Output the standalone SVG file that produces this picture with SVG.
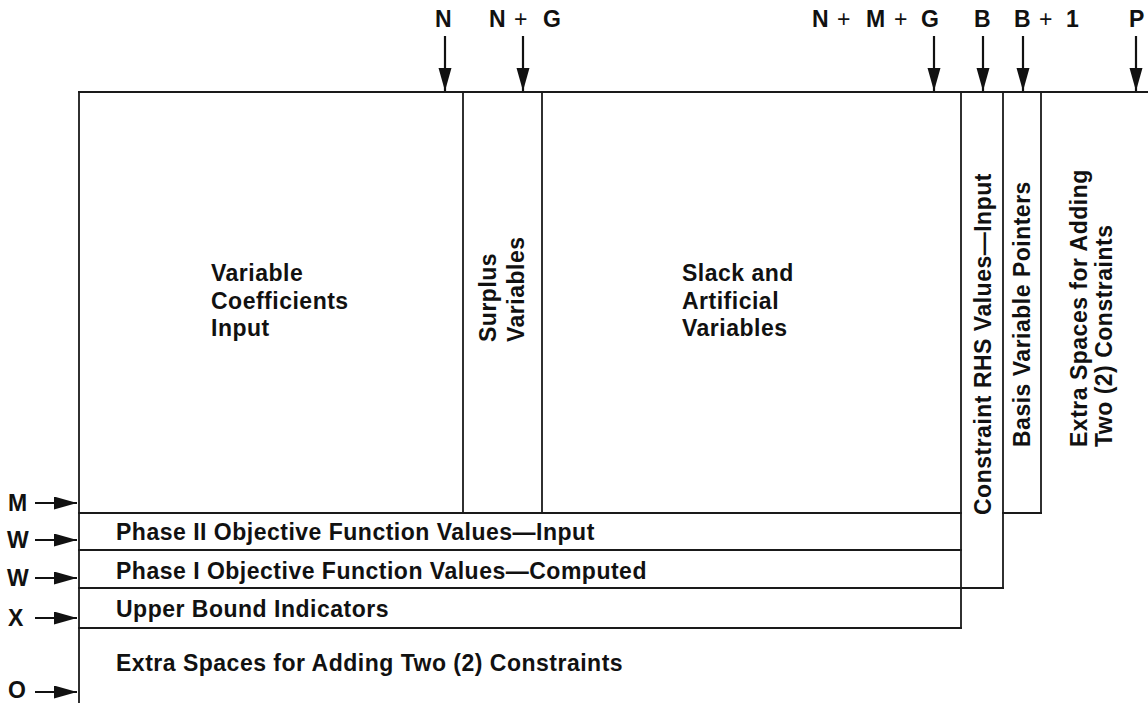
<svg xmlns="http://www.w3.org/2000/svg" width="1148" height="703" viewBox="0 0 1148 703">
<style>
  .ln{stroke:#1a1a1a;stroke-width:1.8;fill:none;stroke-linecap:square}
  .ar{stroke:#111;stroke-width:2.2;fill:none}
  .t{font-family:"Liberation Sans",Arial,Helvetica,sans-serif;font-weight:bold;font-size:23px;fill:#111;letter-spacing:0.5px}
  .pl{font-family:"Liberation Sans",Arial,Helvetica,sans-serif;font-weight:normal;font-size:23px;fill:#111}
</style>
<defs>
  <marker id="ah" markerUnits="userSpaceOnUse" markerWidth="24" markerHeight="14" refX="23" refY="6.5" orient="auto">
    <path d="M0,0 L23,6.5 L0,13 z" fill="#111"/>
  </marker>
</defs>
<rect width="1148" height="703" fill="#fff"/>

<g id="frame">
  <line class="ln" x1="79" y1="92" x2="1148" y2="92"/>
  <line class="ln" x1="79" y1="92" x2="79" y2="703"/>
</g>

<g id="variable-coefficients">
  <text class="t" x="211" y="281">Variable</text>
  <text class="t" x="211" y="309">Coefficients</text>
  <text class="t" x="211" y="336">Input</text>
</g>

<g id="surplus-variables">
  <line class="ln" x1="463" y1="92" x2="463" y2="513"/>
  <line class="ln" x1="542" y1="92" x2="542" y2="513"/>
  <text class="t" transform="translate(496,342) rotate(-90)">Surplus</text>
  <text class="t" transform="translate(524,342) rotate(-90)">Variables</text>
</g>

<g id="slack-artificial">
  <text class="t" x="682" y="281">Slack and</text>
  <text class="t" x="682" y="309">Artificial</text>
  <text class="t" x="682" y="336">Variables</text>
</g>

<g id="constraint-rhs">
  <line class="ln" x1="961" y1="92" x2="961" y2="628"/>
  <line class="ln" x1="1003" y1="92" x2="1003" y2="588"/>
  <text class="t" transform="translate(991,515) rotate(-90)">Constraint RHS Values—Input</text>
</g>

<g id="basis-pointers">
  <line class="ln" x1="1041" y1="92" x2="1041" y2="513"/>
  <line class="ln" x1="1003" y1="513" x2="1041" y2="513"/>
  <text class="t" transform="translate(1030,447) rotate(-90)">Basis Variable Pointers</text>
</g>

<g id="extra-columns">
  <text class="t" transform="translate(1087,447) rotate(-90)">Extra Spaces for Adding</text>
  <text class="t" transform="translate(1112,447) rotate(-90)">Two (2) Constraints</text>
</g>

<g id="phase2-row">
  <line class="ln" x1="79" y1="513" x2="961" y2="513"/>
  <text class="t" x="116" y="540">Phase II Objective Function Values—Input</text>
</g>

<g id="phase1-row">
  <line class="ln" x1="79" y1="550" x2="961" y2="550"/>
  <text class="t" x="116" y="579">Phase I Objective Function Values—Computed</text>
</g>

<g id="upper-bound-row">
  <line class="ln" x1="79" y1="588" x2="1003" y2="588"/>
  <text class="t" x="116" y="617">Upper Bound Indicators</text>
</g>

<g id="extra-rows">
  <line class="ln" x1="79" y1="628" x2="961" y2="628"/>
  <text class="t" x="116" y="671">Extra Spaces for Adding Two (2) Constraints</text>
</g>

<g id="top-labels">
  <text class="t" x="435" y="27">N</text>
  <text class="t" x="489" y="27">N</text><text class="pl" x="514" y="27">+</text><text class="t" x="543" y="27">G</text>
  <text class="t" x="812" y="27">N</text><text class="pl" x="837" y="27">+</text><text class="t" x="866" y="27">M</text><text class="pl" x="894" y="27">+</text><text class="t" x="921" y="27">G</text>
  <text class="t" x="974" y="27">B</text>
  <text class="t" x="1014" y="27">B</text><text class="pl" x="1039" y="27">+</text><text class="t" x="1066" y="27">1</text>
  <text class="t" x="1129" y="27">P</text>
</g>

<g id="left-labels">
  <text class="t" x="8" y="511">M</text>
  <text class="t" x="7" y="548">W</text>
  <text class="t" x="7" y="586">W</text>
  <text class="t" x="8" y="626">X</text>
  <text class="t" x="8" y="698">O</text>
</g>

<g id="connectors">
  <line class="ar" x1="445" y1="36" x2="445" y2="91" marker-end="url(#ah)"/>
  <line class="ar" x1="523" y1="36" x2="523" y2="91" marker-end="url(#ah)"/>
  <line class="ar" x1="934" y1="36" x2="934" y2="91" marker-end="url(#ah)"/>
  <line class="ar" x1="983" y1="36" x2="983" y2="91" marker-end="url(#ah)"/>
  <line class="ar" x1="1023" y1="36" x2="1023" y2="91" marker-end="url(#ah)"/>
  <line class="ar" x1="1136" y1="36" x2="1136" y2="91" marker-end="url(#ah)"/>
  <line class="ar" x1="35" y1="503" x2="77" y2="503" marker-end="url(#ah)"/>
  <line class="ar" x1="35" y1="540" x2="77" y2="540" marker-end="url(#ah)"/>
  <line class="ar" x1="35" y1="578" x2="77" y2="578" marker-end="url(#ah)"/>
  <line class="ar" x1="35" y1="618" x2="77" y2="618" marker-end="url(#ah)"/>
  <line class="ar" x1="35" y1="692" x2="77" y2="692" marker-end="url(#ah)"/>
</g>
</svg>
